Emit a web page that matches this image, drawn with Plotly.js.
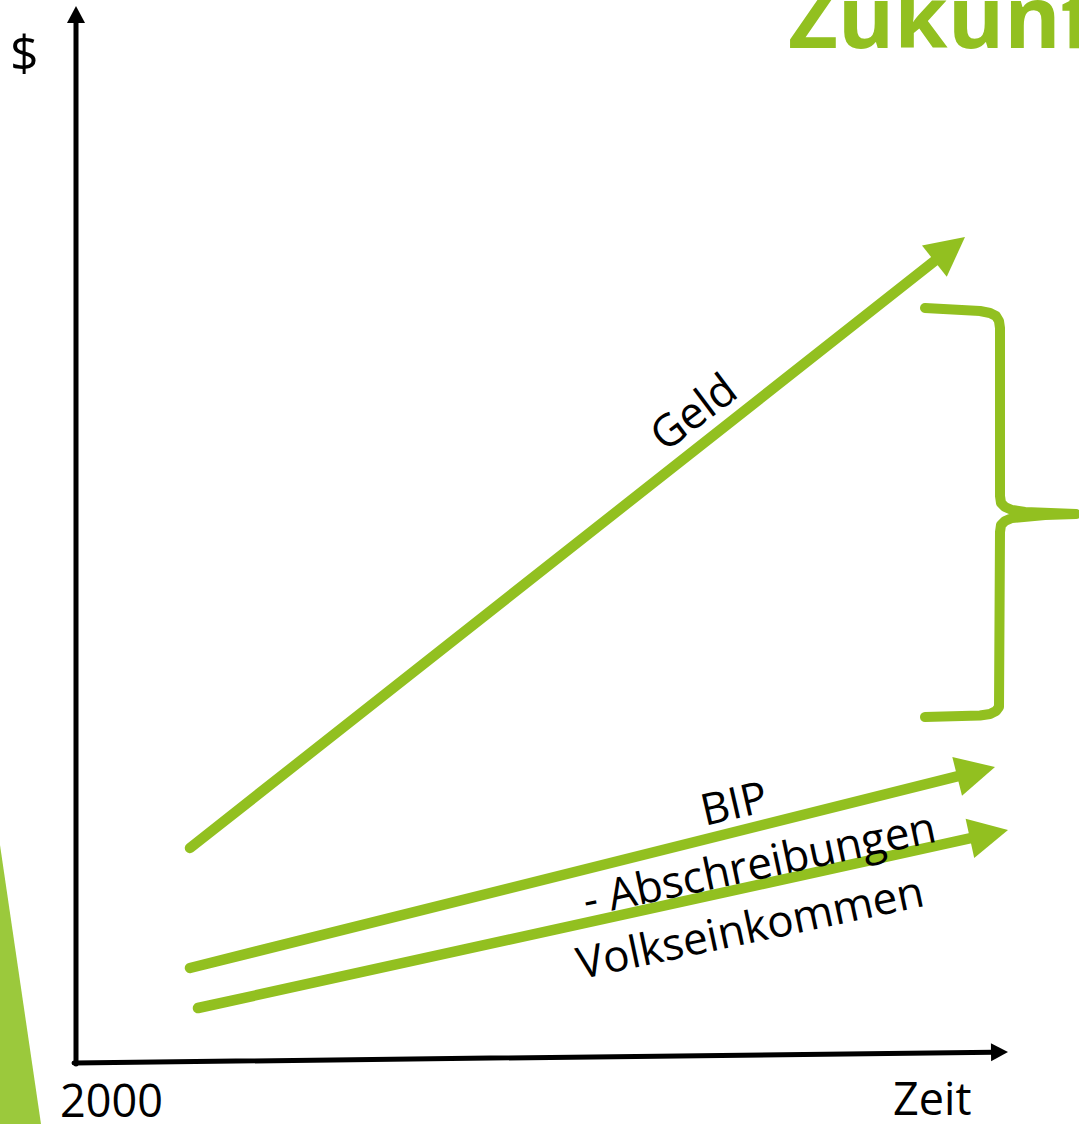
<!DOCTYPE html>
<html><head><meta charset="utf-8">
<script src="https://cdn.plot.ly/plotly-3.0.1.min.js"></script>
<style>
html,body{margin:0;padding:0;background:#fff;overflow:hidden;}
#chart .js-line{stroke-linecap:round;stroke-linejoin:round;}
</style></head><body>
<div id="chart" style="width:1079px;height:1124px;"></div>
<script>
// ---- data (diagram coordinates, y grows downward) ----
const seriesNames  = ['Geld', 'BIP', 'Volkseinkommen'];
const seriesStartX = [190, 190, 198];
const seriesStartY = [848, 968, 1008];
const seriesEndX   = [965, 995, 1008];
const seriesEndY   = [237, 767, 830];

const axisStartX = [76, 74];
const axisStartY = [1064, 1063];
const axisEndX   = [76, 1008];
const axisEndY   = [6, 1052];

const braceX = [925, 945, 965, 980, 990, 996, 999, 1000, 1000, 1001, 1005, 1012, 1025, 1045, 1076,
                1045, 1025, 1012, 1005, 1001, 1000, 1000, 999, 996, 990, 980, 965, 945, 925];
const braceY = [308, 308.5, 309.5, 311, 313, 316, 321, 328, 496, 503, 507, 510, 512, 513, 514,
                515, 516, 518, 521, 525, 532, 700, 707, 711, 714, 715.5, 716.5, 717, 717];

const decoX = [0, 41, 0];
const decoY = [845, 1124, 1124];

const titleText = 'Zukunft';
const labelTexts = ['Geld', 'BIP', '- Abschreibungen', 'Volkseinkommen'];
const axisLabels = ['$', '2000', 'Zeit'];

// ---- styles ----
const GREEN = '#92c020';
const GREEN_LIGHT = '#9bc93c';
const FONT = '"Open Sans", "Noto Sans", sans-serif';

function arrowTraces(x0, y0, x1, y1, color, width, headLen, headW) {
  const dx = x1 - x0, dy = y1 - y0;
  const L = Math.hypot(dx, dy);
  const ux = dx / L, uy = dy / L;
  const bx = x1 - ux * headLen, by = y1 - uy * headLen;
  const px = -uy, py = ux;
  const shaft = {
    type: 'scatter', mode: 'lines', x: [x0, bx + ux * 2], y: [y0, by + uy * 2],
    line: { color: color, width: width }, hoverinfo: 'skip'
  };
  const head = {
    type: 'scatter', mode: 'lines', fill: 'toself', fillcolor: color,
    x: [x1, bx + px * headW / 2, bx - px * headW / 2, x1],
    y: [y1, by + py * headW / 2, by - py * headW / 2, y1],
    line: { color: color, width: 0 }, hoverinfo: 'skip'
  };
  return [shaft, head];
}

const traces = [];
traces.push({
  type: 'scatter', mode: 'lines', x: decoX, y: decoY, fill: 'toself',
  fillcolor: GREEN_LIGHT, line: { width: 0, color: GREEN_LIGHT }, hoverinfo: 'skip'
});
for (let i = 0; i < axisStartX.length; i++) {
  traces.push(...arrowTraces(axisStartX[i], axisStartY[i], axisEndX[i], axisEndY[i], '#000', 5, 17, 18));
}
for (let i = 0; i < seriesNames.length; i++) {
  traces.push(...arrowTraces(seriesStartX[i], seriesStartY[i], seriesEndX[i], seriesEndY[i], GREEN, 10.5, 39, 40));
}
traces.push({
  type: 'scatter', mode: 'lines', x: braceX, y: braceY,
  line: { color: GREEN, width: 10 }, hoverinfo: 'skip'
});

const labelX = [692, 733, 759, 749];
const labelY = [411, 802, 862, 926];
const labelAngle = [-37, -13, -12, -12];

const annotations = [];
annotations.push({
  text: titleText, x: 786, y: 14, xref: 'x', yref: 'y', xanchor: 'left', yanchor: 'middle',
  showarrow: false, font: { family: FONT, size: 86, color: GREEN, weight: 700 }
});
for (let i = 0; i < labelTexts.length; i++) {
  annotations.push({
    text: labelTexts[i], x: labelX[i], y: labelY[i], xref: 'x', yref: 'y',
    xanchor: 'center', yanchor: 'middle', textangle: labelAngle[i], showarrow: false,
    font: { family: FONT, size: 44, color: '#000' }
  });
}
const axisLabelX = [24, 111, 932];
const axisLabelY = [52, 1099, 1097];
const axisLabelSize = [50, 45, 45];
for (let i = 0; i < axisLabels.length; i++) {
  annotations.push({
    text: axisLabels[i], x: axisLabelX[i], y: axisLabelY[i], xref: 'x', yref: 'y',
    xanchor: 'center', yanchor: 'middle', showarrow: false,
    font: { family: FONT, size: axisLabelSize[i], color: '#000' }
  });
}

const layout = {
  width: 1079, height: 1124, margin: { l: 0, r: 0, t: 0, b: 0 },
  paper_bgcolor: '#fff', plot_bgcolor: '#fff', showlegend: false,
  xaxis: { range: [0, 1079], visible: false, fixedrange: true },
  yaxis: { range: [1124, 0], visible: false, fixedrange: true },
  annotations: annotations
};
Plotly.newPlot('chart', traces, layout, { staticPlot: true, displayModeBar: false });
</script>
</body></html>
